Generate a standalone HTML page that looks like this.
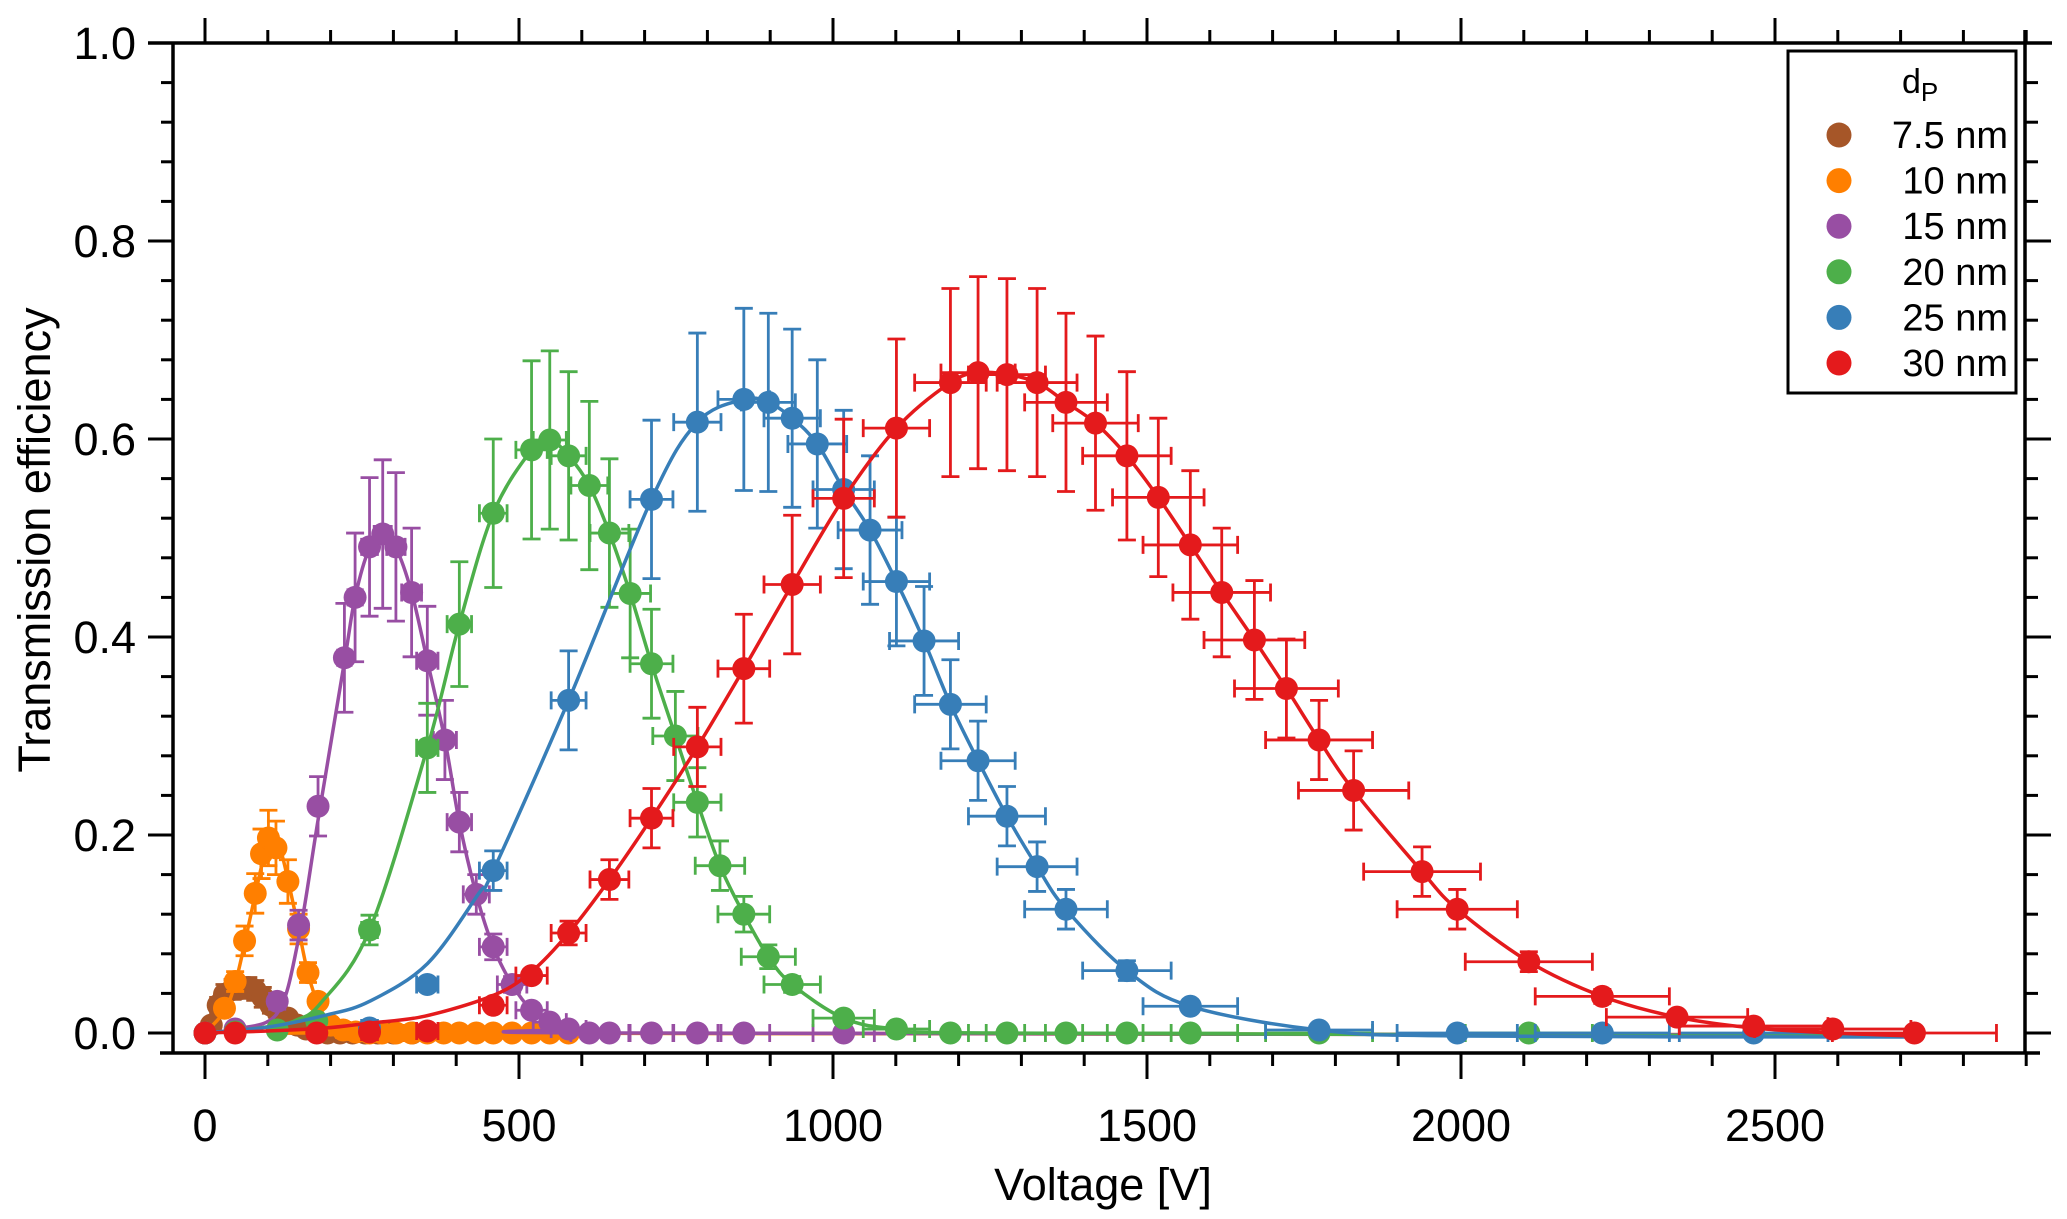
<!DOCTYPE html>
<html><head><meta charset="utf-8"><style>
html,body{margin:0;padding:0;background:#fff;}
svg{display:block;font-family:"Liberation Sans",Arial,sans-serif;}
</style></head><body>
<svg id="chart" width="2067" height="1219" viewBox="0 0 2067 1219" xmlns="http://www.w3.org/2000/svg">
<g id="axes"></g>
<g id="plot"></g>
<g id="legend"></g>
</svg>
<script>
const xTicks=[0,500,1000,1500,2000,2500];
const yTicks=[0,0.2,0.4,0.6,0.8,1.0];
const seriesNames=["7.5 nm","10 nm","15 nm","20 nm","25 nm","30 nm"];
const seriesColors=["#a65628","#ff7f00","#984ea3","#4daf4a","#377eb8","#e41a1c"];

const brownV=[0,10,21,31,44,57,69,80,92,105,117,132,147,161,178,195,215,235,255,275,300,330];
const brownT=[0,0.008,0.028,0.039,0.044,0.045,0.046,0.043,0.036,0.028,0.02,0.015,0.008,0.004,0.001,0,0,0,0,0,0,0];
const brownE=[0,0.004,0.008,0.01,0.01,0.01,0.01,0.01,0.01,0.008,0.006,0.005,0.004,0.003,0.002,0,0,0,0,0,0,0];

const orangeV=[0,31,48,63,80,90,101,113,132,149,164,180,200,220,240,262,282,304,329,354,380,405,432,459,489,520,549,579];
const orangeT=[0,0.025,0.052,0.093,0.141,0.181,0.197,0.187,0.153,0.105,0.061,0.032,0.008,0.003,0.001,0,0,0,0,0,0,0,0,0,0,0,0,0];
const orangeE=[0,0.006,0.01,0.015,0.02,0.025,0.028,0.027,0.022,0.015,0.01,0.006,0.003,0.002,0.002,0.001,0.001,0.001,0.001,0.001,0.001,0.001,0.001,0.001,0.001,0.001,0.001,0.001];

const purpleV=[0,48,115,149,180,222,239,262,283,304,329,354,382,405,432,459,489,520,549,579,612,644,711,784,858,1017];
const purpleT=[0,0.004,0.032,0.109,0.229,0.379,0.44,0.491,0.504,0.491,0.445,0.376,0.296,0.213,0.14,0.087,0.049,0.023,0.011,0.004,0,0,0,0,0,0];
const purpleE=[0,0.002,0.008,0.015,0.03,0.055,0.065,0.07,0.075,0.075,0.065,0.055,0.04,0.03,0.02,0.013,0.008,0.005,0.003,0.002,0.001,0.001,0.001,0.001,0.001,0.001];

const greenV=[0,48,115,178,262,354,405,459,520,549,579,612,644,677,711,749,784,820,858,897,935,1017,1101,1187,1277,1371,1468,1569,1774,2108];
const greenT=[0,0.001,0.003,0.012,0.104,0.288,0.413,0.525,0.589,0.599,0.583,0.553,0.505,0.444,0.373,0.3,0.233,0.169,0.12,0.077,0.049,0.015,0.004,0,0,0,0,0,0,0];
const greenE=[0,0.001,0.002,0.004,0.015,0.045,0.063,0.075,0.09,0.09,0.085,0.085,0.075,0.065,0.055,0.045,0.035,0.025,0.018,0.012,0.008,0.004,0.002,0.001,0.001,0.001,0.001,0.001,0.001,0.001];

const blueV=[0,262,354,459,579,711,784,858,897,935,975,1017,1059,1101,1145,1187,1231,1277,1325,1371,1468,1569,1774,1994,2225,2466];
const blueT=[0,0.005,0.049,0.164,0.336,0.539,0.617,0.64,0.637,0.621,0.595,0.549,0.508,0.456,0.396,0.332,0.275,0.219,0.168,0.125,0.063,0.027,0.003,0,0,0];
const blueE=[0,0.002,0.006,0.02,0.05,0.08,0.09,0.092,0.09,0.09,0.085,0.08,0.075,0.065,0.055,0.045,0.04,0.03,0.025,0.02,0.01,0.005,0.002,0.001,0.001,0.001];

const redV=[0,48,178,262,354,459,520,579,644,711,784,858,935,1017,1101,1187,1231,1277,1325,1371,1418,1468,1518,1569,1619,1671,1722,1774,1829,1938,1994,2108,2225,2344,2466,2592,2722];
const redT=[0,0,0,0.001,0.002,0.028,0.058,0.101,0.155,0.217,0.289,0.368,0.453,0.54,0.611,0.657,0.667,0.665,0.657,0.637,0.616,0.583,0.541,0.493,0.445,0.397,0.348,0.296,0.245,0.163,0.125,0.072,0.037,0.016,0.007,0.004,0];
const redE=[0,0,0,0.001,0.002,0.004,0.006,0.012,0.02,0.03,0.04,0.055,0.07,0.08,0.09,0.095,0.097,0.097,0.095,0.09,0.088,0.085,0.08,0.075,0.065,0.06,0.05,0.04,0.04,0.025,0.02,0.01,0.007,0.004,0.003,0.002,0.001];

// fitted curve samples
const brownFitV=[0,21,44,69,92,117,147,178,230,330,2722];
const brownFitT=[0,0.025,0.042,0.045,0.037,0.022,0.009,0.002,0,0,-0.002];
const orangeFitV=[0,31,48,63,80,95,108,120,132,149,164,180,200,240,300,2722];
const orangeFitT=[0,0.022,0.05,0.09,0.14,0.18,0.193,0.185,0.155,0.105,0.06,0.03,0.01,0.001,0,-0.002];
const purpleFitV=[0,48,115,149,180,222,239,262,283,304,329,354,382,405,432,459,489,520,549,579,650,2722];
const purpleFitT=[0,0.004,0.02,0.095,0.215,0.375,0.44,0.49,0.503,0.49,0.445,0.376,0.296,0.213,0.14,0.087,0.049,0.023,0.011,0.004,0,-0.002];
const greenFitV=[0,60,115,145,184,262,354,405,459,520,549,579,612,644,677,711,749,784,820,858,897,935,1017,1101,1250,2722];
const greenFitT=[0,0.003,0.008,0.013,0.03,0.104,0.288,0.413,0.525,0.589,0.599,0.583,0.553,0.505,0.444,0.373,0.3,0.233,0.169,0.12,0.077,0.049,0.015,0.004,0,-0.003];
const blueFitV=[0,100,192,262,354,436,459,579,711,784,858,897,935,975,1017,1059,1101,1145,1187,1231,1277,1325,1371,1468,1569,1774,1994,2722];
const blueFitT=[0,0.006,0.018,0.032,0.07,0.141,0.164,0.336,0.539,0.617,0.64,0.637,0.621,0.595,0.549,0.508,0.456,0.396,0.332,0.275,0.219,0.168,0.125,0.063,0.027,0.003,-0.003,-0.004];
const redFitV=[0,100,192,262,350,459,520,579,644,711,784,858,935,1017,1101,1187,1231,1277,1325,1371,1418,1468,1518,1569,1619,1671,1722,1774,1829,1938,1994,2108,2225,2344,2466,2592,2722];
const redFitT=[0,0.002,0.005,0.01,0.017,0.038,0.062,0.101,0.155,0.217,0.289,0.368,0.453,0.54,0.611,0.657,0.667,0.665,0.657,0.637,0.616,0.583,0.541,0.493,0.445,0.397,0.348,0.296,0.245,0.163,0.125,0.072,0.037,0.016,0.005,0,-0.003];

const seriesV=[brownV,orangeV,purpleV,greenV,blueV,redV];
const seriesT=[brownT,orangeT,purpleT,greenT,blueT,redT];
const seriesE=[brownE,orangeE,purpleE,greenE,blueE,redE];
const fitV=[brownFitV,orangeFitV,purpleFitV,greenFitV,blueFitV,redFitV];
const fitT=[brownFitT,orangeFitT,purpleFitT,greenFitT,blueFitT,redFitT];

const X0=205, XS=0.628, Y0=1033, YS=990;
function xs(v){return X0+v*XS;}
function ys(t){return Y0-t*YS;}
const NS="http://www.w3.org/2000/svg";
function mk(tag,attrs,parent){const e=document.createElementNS(NS,tag);for(const k in attrs)e.setAttribute(k,attrs[k]);parent.appendChild(e);return e;}

const axes=document.getElementById('axes');
let l;
l=mk('line',{x1:173,y1:43,x2:173,y2:1053,stroke:'#000','stroke-width':3.5},axes);


l=mk('line',{x1:160,y1:1053,x2:2040,y2:1053,stroke:'#000','stroke-width':3.5},axes);


l=mk('line',{x1:148,y1:43,x2:2052,y2:43,stroke:'#000','stroke-width':3.5},axes);


l=mk('line',{x1:2025,y1:30,x2:2025,y2:1053,stroke:'#000','stroke-width':3.5},axes);



for(let v=0;v<=2900;v+=100){
  const major=(v%500===0);
  const x=xs(v);
  let t=mk('line',{x1:x,y1:1053,x2:x,y2:1053+(major?26:13),stroke:'#000','stroke-width':3},axes);
  
  
  t=mk('line',{x1:x,y1:43,x2:x,y2:43-(major?25:13),stroke:'#000','stroke-width':3},axes);
  
  
}
xTicks.forEach(v=>{
  const t=mk('text',{x:xs(v),y:1141,'text-anchor':'middle','font-size':45,fill:'#000'},axes);
  t.textContent=String(v);
  
  
});
for(let i=0;i<=25;i++){
  const v=i*0.04;
  const major=(i%5===0);
  const y=ys(v);
  let t=mk('line',{x1:173,y1:y,x2:173-(major?25:12),y2:y,stroke:'#000','stroke-width':3},axes);
  
  
  t=mk('line',{x1:2025,y1:y,x2:2025+(major?26:13),y2:y,stroke:'#000','stroke-width':3},axes);
  
  
}
yTicks.forEach(v=>{
  const t=mk('text',{x:136,y:ys(v)+16,'text-anchor':'end','font-size':45,fill:'#000'},axes);
  t.textContent=v.toFixed(1);
  
  
});
let tt=mk('text',{x:1103,y:1200,'text-anchor':'middle','font-size':45,fill:'#000'},axes);
tt.textContent='Voltage [V]';


tt=mk('text',{x:0,y:0,'text-anchor':'middle','font-size':45,fill:'#000',transform:'translate(50,540) rotate(-90)'},axes);
tt.textContent='Transmission efficiency';



function smoothPath(pts){
  let d='M'+pts[0][0]+','+pts[0][1];
  for(let i=0;i<pts.length-1;i++){
    const p0=pts[Math.max(0,i-1)],p1=pts[i],p2=pts[i+1],p3=pts[Math.min(pts.length-1,i+2)];
    const c1x=p1[0]+(p2[0]-p0[0])/6,c1y=p1[1]+(p2[1]-p0[1])/6;
    const c2x=p2[0]-(p3[0]-p1[0])/6,c2y=p2[1]-(p3[1]-p1[1])/6;
    d+=' C'+c1x+','+c1y+' '+c2x+','+c2y+' '+p2[0]+','+p2[1];
  }
  return d;
}

const plot=document.getElementById('plot');
const XERR=0.048;
seriesV.forEach((V,s)=>{
  const T=seriesT[s],E=seriesE[s],c=seriesColors[s];
  const g=mk('g',{},plot);
  
  
  V.forEach((v,i)=>{
    const x=xs(v),y=ys(T[i]),dy=E[i]*YS,dx=v*XERR*XS;
    const eb=mk('path',{d:'M'+x+','+(y-dy)+'V'+(y+dy)+'M'+(x-9)+','+(y-dy)+'H'+(x+9)+'M'+(x-9)+','+(y+dy)+'H'+(x+9)+
      'M'+(x-dx)+','+y+'H'+(x+dx)+'M'+(x-dx)+','+(y-9)+'V'+(y+9)+'M'+(x+dx)+','+(y-9)+'V'+(y+9),
      stroke:c,'stroke-width':2.8,fill:'none'},g);
    
    
  });
  const pts=fitV[s].map((v,i)=>[xs(v),ys(fitT[s][i])]);
  const cv=mk('path',{d:smoothPath(pts),stroke:c,'stroke-width':3.5,fill:'none'},g);
  
  
  V.forEach((v,i)=>{
    const m=mk('circle',{cx:xs(v),cy:ys(T[i]),r:11.5,fill:c},g);
    
    
  });
});

const lg=document.getElementById('legend');
let r=mk('rect',{x:1788,y:51,width:228,height:342,fill:'#fff',stroke:'#000','stroke-width':3},lg);


let ti=mk('text',{x:1902,y:93,'font-size':34,fill:'#000'},lg);
ti.innerHTML='d<tspan font-size="26" dy="8">P</tspan>';


seriesNames.forEach((n,i)=>{
  const y=135+i*45.6;
  const d=mk('circle',{cx:1839,cy:y,r:12.5,fill:seriesColors[i]},lg);
  
  
  const t=mk('text',{x:2008,y:y+13,'text-anchor':'end','font-size':38,fill:'#000'},lg);
  t.textContent=n;
  
  
});
</script>
</body></html>
